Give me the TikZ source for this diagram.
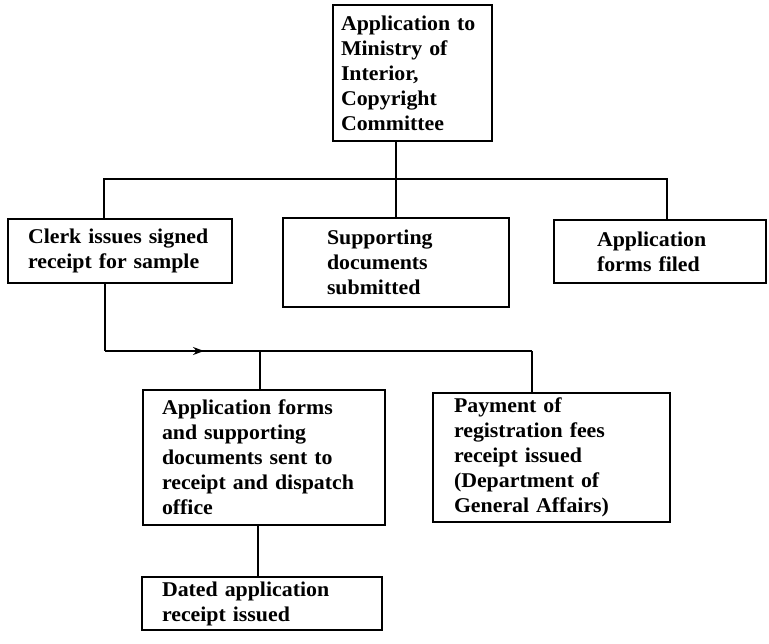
\documentclass[tikz,border=0pt]{standalone}
\usepackage{fontspec}
\setmainfont{Liberation Serif}[FakeStretch=1.04]
\usetikzlibrary{arrows.meta,decorations.markings}

% one unbreakable text line inside a box
\newcommand\tl[1]{\mbox{#1}}

\begin{document}
\begin{tikzpicture}[x=1pt,y=-1pt,
  stage/.style={draw, line width=1.6pt, rectangle, inner ysep=0pt, align=left,
    font=\fontsize{21}{25}\selectfont\bfseries},
  link/.style={line width=1.6pt}]
\useasboundingbox (0,0) rectangle (769,644);

% boxes: centre, outer size and left text margin
\node[stage, minimum height=136pt, text width=143pt, inner xsep=8pt] (top) at (412.5,73)
  {\tl{Application to}\\\tl{Ministry of}\\\tl{Interior,}\\\tl{Copyright}\\\tl{Committee}};
\node[stage, minimum height=64pt, text width=184pt, inner xsep=20pt] (clerk) at (120,251)
  {\tl{Clerk issues signed}\\\tl{receipt for sample}};
\node[stage, minimum height=89pt, text width=138pt, inner xsep=44pt] (supp) at (396,262.5)
  {\tl{Supporting}\\\tl{documents}\\\tl{submitted}};
\node[stage, minimum height=63pt, text width=126pt, inner xsep=43pt] (filed) at (660,251.5)
  {\tl{Application}\\\tl{forms filed}};
\node[stage, minimum height=135pt, text width=204pt, inner xsep=19pt] (forms) at (264,457.5)
  {\tl{Application forms}\\\tl{and supporting}\\\tl{documents sent to}\\\tl{receipt and dispatch}\\\tl{office}};
\node[stage, minimum height=129pt, text width=195pt, inner xsep=21pt] (pay) at (551.5,457.5)
  {\tl{Payment of}\\\tl{registration fees}\\\tl{receipt issued}\\\tl{(Department of}\\\tl{General Affairs)}};
\node[stage, minimum height=53pt, text width=200pt, inner xsep=20pt] (dated) at (262,603.5)
  {\tl{Dated application}\\\tl{receipt issued}};

% junctions of the two distribution lines
\coordinate (u1) at (104,179);
\coordinate (u2) at (667,179);
\coordinate (l1) at (105,351);
\coordinate (l2) at (532,351);
\coordinate (l3) at (260,351);

% upper distribution
\draw[link] (supp.north) -- (supp.north |- top.south);
\draw[link] (clerk.north -| u1) -- (u1) -- (u2) -- (u2 |- filed.north);

% lower distribution
\draw[link] (clerk.south -| l1) -- (l1);
\draw[link, postaction={decorate}, decoration={markings,
    mark=at position 99pt with {\arrow{Stealth[length=11pt,width=8pt]}}}]
  (l1) -- (l2);
\draw[link] (l2) -- (l2 |- pay.north);
\draw[link] (l3) -- (l3 |- forms.north);
\draw[link] ([xshift=-4pt]dated.north) -- ([xshift=-4pt]dated.north |- forms.south);
\end{tikzpicture}
\end{document}
